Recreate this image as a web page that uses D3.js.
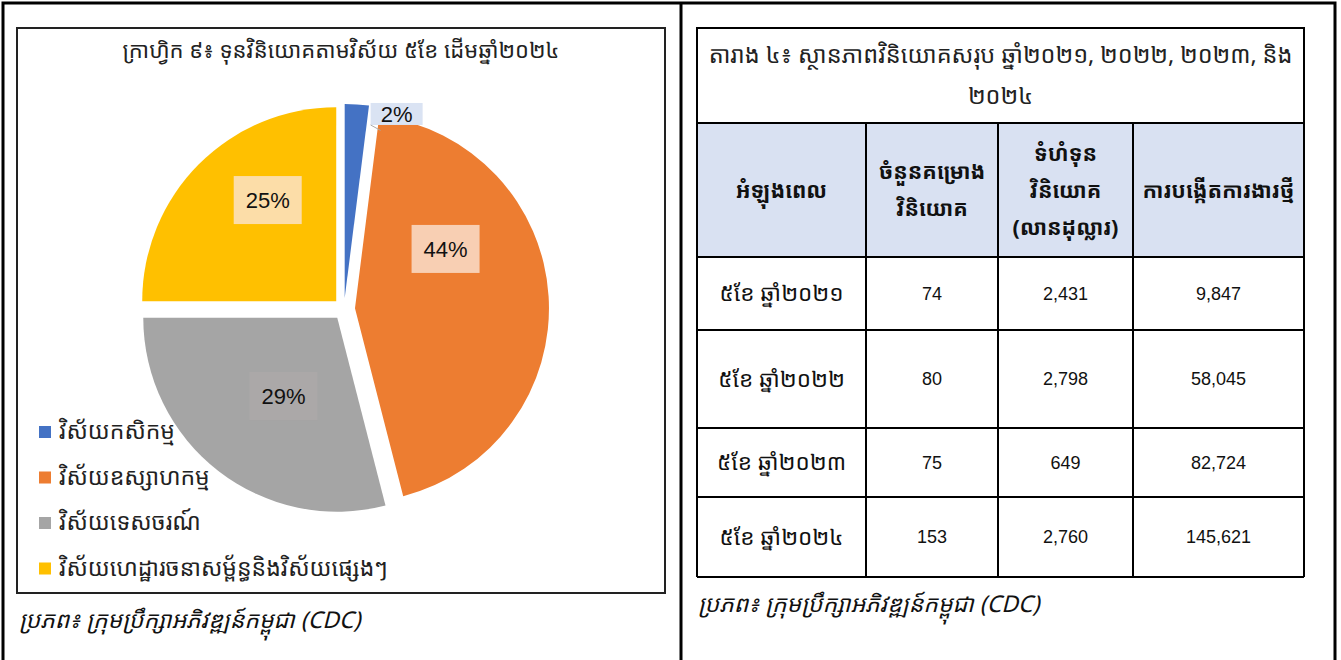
<!DOCTYPE html>
<html>
<head>
<meta charset="utf-8">
<script src="https://cdnjs.cloudflare.com/ajax/libs/d3/7.8.5/d3.min.js"></script>
<style>
  html, body { margin: 0; background: #fff; }
  svg { display: block; font-family: "Liberation Sans", Arial, sans-serif; }
  .kh { font-family: "Noto Sans Khmer", "Khmer OS", "Noto Sans", sans-serif; }
</style>
</head>
<body>
<svg id="page" width="1341" height="660"></svg>
<script>
// pie data
var sectors = ["វិស័យកសិកម្ម", "វិស័យឧស្សាហកម្ម", "វិស័យទេសចរណ៍", "វិស័យហេដ្ឋារចនាសម្ព័ន្ធនិងវិស័យផ្សេងៗ"];
var shares = [2, 44, 29, 25];
var sectorColors = ["#4472C4", "#ED7D31", "#A5A5A5", "#FFC000"];
var labelFills = ["#DAE3F3", "#F8CFB3", "#ABA8A8", "#FCDDA8"];

// table data
var periods = ["៥ខែ ឆ្នាំ២០២១", "៥ខែ ឆ្នាំ២០២២", "៥ខែ ឆ្នាំ២០២៣", "៥ខែ ឆ្នាំ២០២៤"];
var projects = [74, 80, 75, 153];
var capital = [2431, 2798, 649, 2760];
var jobs = [9847, 58045, 82724, 145621];
var headers = [["អំឡុងពេល"], ["ចំនួនគម្រោង", "វិនិយោគ"], ["ទំហំទុន", "វិនិយោគ", "(លានដុល្លារ)"], ["ការបង្កើតការងារថ្មី"]];

var chartTitle = "ក្រាហ្វិក ៩៖ ទុនវិនិយោគតាមវិស័យ ៥ខែ ដើមឆ្នាំ២០២៤";
var tableTitle = ["តារាង ៤៖ ស្ថានភាពវិនិយោគសរុប ឆ្នាំ២០២១, ២០២២, ២០២៣,  និង", "២០២៤"];
var sourceText = "ប្រភព៖ ក្រុមប្រឹក្សាអភិវឌ្ឍន៍កម្ពុជា (CDC)";

var svg = d3.select("#page");

// outer frame
svg.append("path")
  .attr("d", "M3,660 V3 H1335 V660 M681,3 V660")
  .attr("fill", "none").attr("stroke", "#000").attr("stroke-width", 3);

// ---- left: pie chart ----
svg.append("rect").attr("x", 17).attr("y", 28).attr("width", 648).attr("height", 565)
  .attr("fill", "#fff").attr("stroke", "#222").attr("stroke-width", 2);

svg.append("text").attr("class", "kh")
  .attr("x", 341).attr("y", 58).attr("text-anchor", "middle")
  .attr("font-size", 22).attr("fill", "#222").text(chartTitle);

var cx = 344, cy = 309, radius = 194, explode = 11;
var pie = d3.pie().sort(null).value(function (d) { return d; });
var arc = d3.arc().innerRadius(0).outerRadius(radius);
var arcs = pie(shares);

function offset(d, dist) {
  var a = (d.startAngle + d.endAngle) / 2;
  return [Math.sin(a) * dist, -Math.cos(a) * dist];
}

var g = svg.append("g").attr("transform", "translate(" + cx + "," + cy + ")");
g.selectAll("path.slice")
  .data(arcs)
  .enter()
  .append("path")
  .attr("class", "slice")
  .attr("d", arc)
  .attr("fill", function (d, i) { return sectorColors[i]; })
  .attr("transform", function (d) { var o = offset(d, explode); return "translate(" + o[0] + "," + o[1] + ")"; });

// label placement: [distance from centre, angle shift in degrees]
var labelLayout = [[202, 11.5], [118, -27], [106, -3], [133, 10]];
var labels = g.selectAll("g.lbl")
  .data(arcs)
  .enter()
  .append("g")
  .attr("class", "lbl")
  .attr("transform", function (d, i) {
    var a = (d.startAngle + d.endAngle) / 2 + labelLayout[i][1] * Math.PI / 180;
    var r = labelLayout[i][0];
    return "translate(" + (Math.sin(a) * r) + "," + (-Math.cos(a) * r) + ")";
  });

// leader for the small slice
var small = arcs[0];
var tip = offset(small, radius + explode - 6);
var lblA = (small.startAngle + small.endAngle) / 2 + labelLayout[0][1] * Math.PI / 180;
g.append("line")
  .attr("x1", Math.sin(lblA) * labelLayout[0][0] - 26).attr("y1", -Math.cos(lblA) * labelLayout[0][0] + 11)
  .attr("x2", tip[0] + 24).attr("y2", tip[1] + 20)
  .attr("stroke", "#aaa").attr("stroke-width", 1);

labels.append("rect")
  .attr("x", function (d, i) { return i === 0 ? -26 : -34; })
  .attr("y", function (d, i) { return i === 0 ? -11 : -24; })
  .attr("width", function (d, i) { return i === 0 ? 52 : 68; })
  .attr("height", function (d, i) { return i === 0 ? 22 : 48; })
  .attr("fill", function (d, i) { return labelFills[i]; });
labels.append("text")
  .attr("text-anchor", "middle").attr("dy", "0.36em")
  .attr("font-size", 22).attr("fill", "#111")
  .text(function (d) { return d.data + "%"; });

// legend
var legend = svg.selectAll("g.leg")
  .data(sectors)
  .enter()
  .append("g")
  .attr("class", "leg")
  .attr("transform", function (d, i) { return "translate(39," + (431 + i * 45.5) + ")"; });
legend.append("rect").attr("x", 0).attr("y", -5).attr("width", 12).attr("height", 12)
  .attr("fill", function (d, i) { return sectorColors[i]; });
legend.append("text").attr("class", "kh")
  .attr("x", 20).attr("y", 0).attr("dy", "0.35em")
  .attr("font-size", 23).attr("fill", "#222")
  .text(function (d) { return d; });

svg.append("text").attr("class", "kh")
  .attr("x", 19).attr("y", 628).attr("font-size", 23).attr("font-style", "italic")
  .attr("fill", "#111").text(sourceText);

// ---- right: table ----
var colX = [697, 866, 998, 1133, 1304];
var rowY = [123, 257, 330, 428, 497, 577];
var fmt = d3.format(",");
var t = svg.append("g");

t.append("rect").attr("x", colX[0]).attr("y", 28).attr("width", colX[4] - colX[0]).attr("height", rowY[0] - 28)
  .attr("fill", "#fff").attr("stroke", "#000").attr("stroke-width", 2);
t.selectAll("text.ttl")
  .data(tableTitle)
  .enter()
  .append("text")
  .attr("class", "ttl kh")
  .attr("x", (colX[0] + colX[4]) / 2).attr("y", function (d, i) { return 55 + i * 41; })
  .attr("dy", "0.35em").attr("text-anchor", "middle")
  .attr("font-size", 23.5).attr("fill", "#222")
  .text(function (d) { return d; });

t.append("rect").attr("x", colX[0]).attr("y", rowY[0]).attr("width", colX[4] - colX[0]).attr("height", rowY[1] - rowY[0])
  .attr("fill", "#D9E1F2");

var head = t.selectAll("g.head")
  .data(headers)
  .enter()
  .append("g")
  .attr("class", "head");
head.selectAll("text")
  .data(function (d, i) { return d.map(function (s, k) { return { s: s, k: k, n: d.length, i: i }; }); })
  .enter()
  .append("text")
  .attr("class", "kh")
  .attr("x", function (d) { return (colX[d.i] + colX[d.i + 1]) / 2; })
  .attr("y", function (d) { return (rowY[0] + rowY[1]) / 2 + (d.k - (d.n - 1) / 2) * 37; })
  .attr("dy", "0.35em").attr("text-anchor", "middle")
  .attr("font-size", 21.5).attr("font-weight", "bold").attr("fill", "#111")
  .text(function (d) { return d.s; });

var rows = periods.map(function (p, i) { return [p, fmt(projects[i]), fmt(capital[i]), fmt(jobs[i])]; });
rows.forEach(function (r, ri) {
  t.selectAll(null)
    .data(r)
    .enter()
    .append("text")
    .attr("class", function (d, ci) { return ci === 0 ? "kh" : null; })
    .attr("x", function (d, ci) { return (colX[ci] + colX[ci + 1]) / 2; })
    .attr("y", (rowY[ri + 1] + rowY[ri + 2]) / 2)
    .attr("dy", "0.35em").attr("text-anchor", "middle")
    .attr("font-size", function (d, ci) { return ci === 0 ? 22.5 : 18; })
    .attr("font-family", function (d, ci) { return ci === 0 ? null : "'Liberation Sans Narrow', 'Liberation Sans', Arial, sans-serif"; })
    .attr("fill", "#111")
    .text(function (d) { return d; });
});

// grid lines
t.selectAll("line.h")
  .data(rowY)
  .enter()
  .append("line")
  .attr("x1", colX[0]).attr("x2", colX[4])
  .attr("y1", function (d) { return d; }).attr("y2", function (d) { return d; })
  .attr("stroke", "#000").attr("stroke-width", 2);
t.selectAll("line.v")
  .data(colX)
  .enter()
  .append("line")
  .attr("y1", rowY[0]).attr("y2", rowY[rowY.length - 1])
  .attr("x1", function (d) { return d; }).attr("x2", function (d) { return d; })
  .attr("stroke", "#000").attr("stroke-width", 2);

t.append("text").attr("class", "kh")
  .attr("x", 698).attr("y", 612).attr("font-size", 23).attr("font-style", "italic")
  .attr("fill", "#111").text(sourceText);
</script>
</body>
</html>
